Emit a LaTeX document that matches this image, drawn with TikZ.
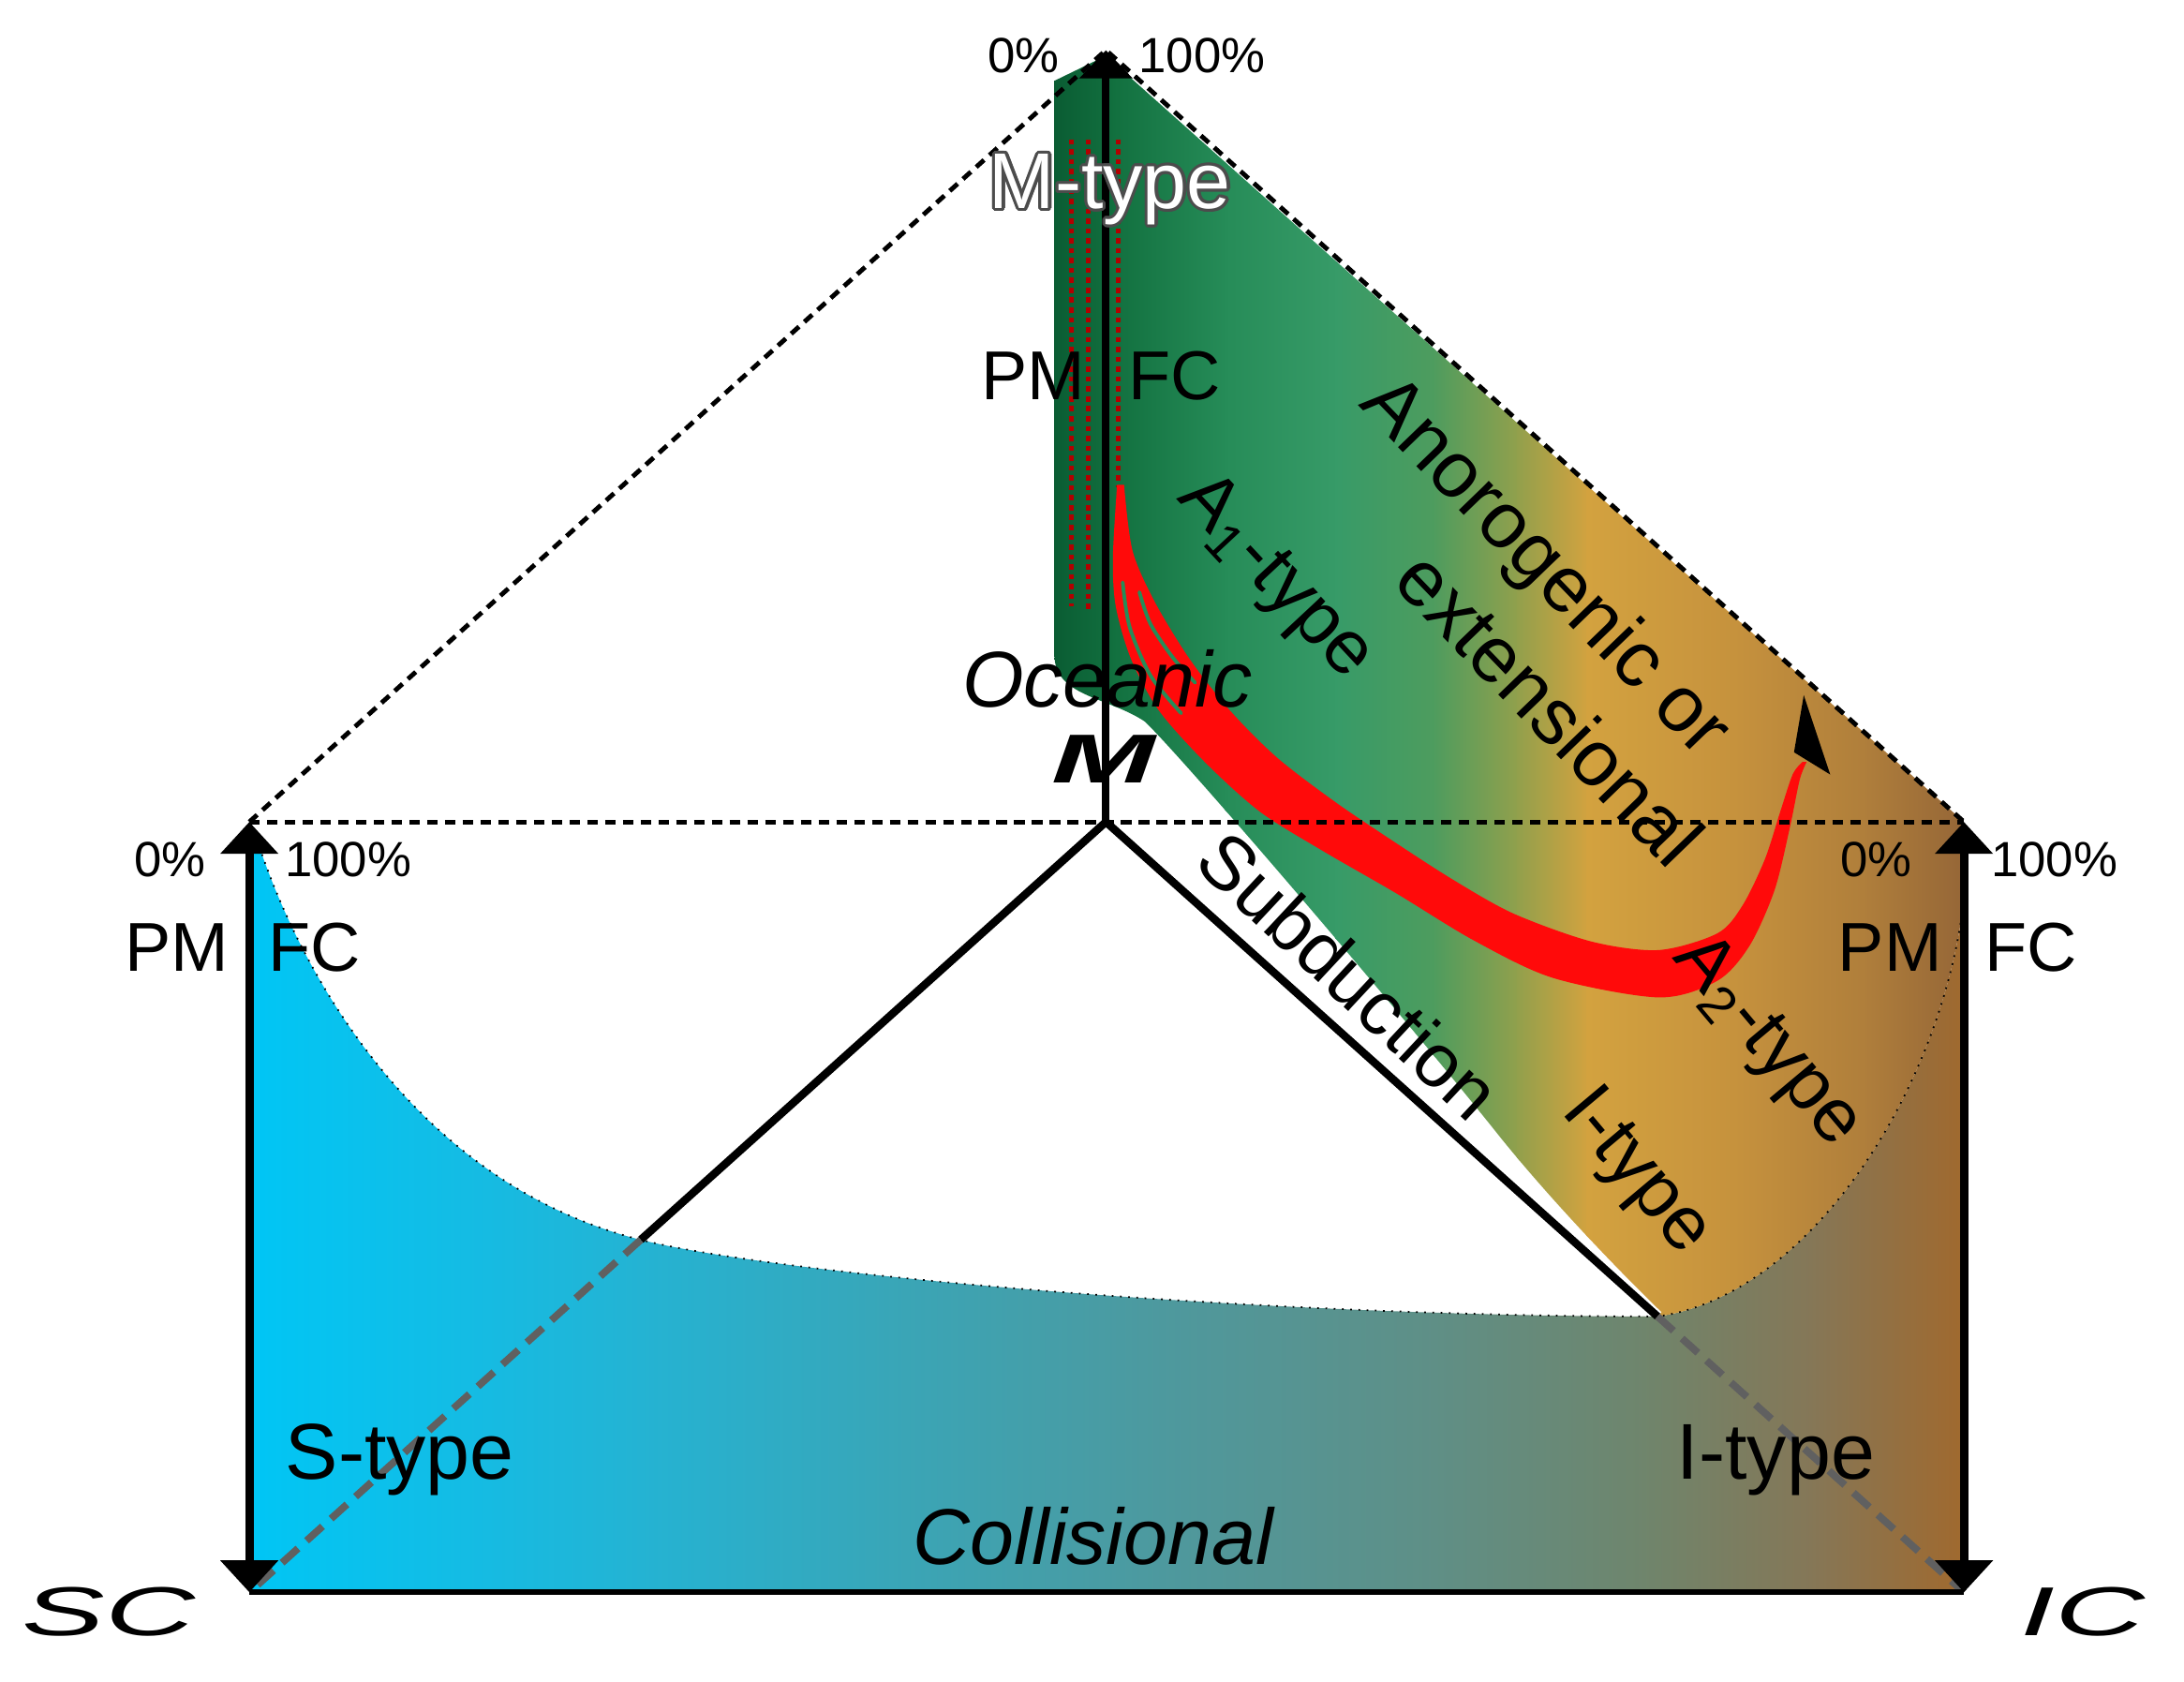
\documentclass[tikz,border=0pt]{standalone}
\usepackage{fontspec}
\setmainfont{Liberation Sans}
\usepackage{graphicx}
\usepackage{contour}
\contourlength{0.9pt}
\usetikzlibrary{arrows.meta}
\definecolor{b0}{HTML}{00C6F5}
\definecolor{b1}{HTML}{12BDE6}
\definecolor{b2}{HTML}{24B3D3}
\definecolor{b3}{HTML}{3AA5B6}
\definecolor{b4}{HTML}{4F989C}
\definecolor{b5}{HTML}{5F8F86}
\definecolor{b6}{HTML}{6F856C}
\definecolor{b7}{HTML}{857757}
\definecolor{b8}{HTML}{A0692E}
\definecolor{g0}{HTML}{0A5C33}
\definecolor{g1}{HTML}{12703F}
\definecolor{g2}{HTML}{268C58}
\definecolor{g3}{HTML}{379B68}
\definecolor{g4}{HTML}{4E9C5E}
\definecolor{g5}{HTML}{92A04C}
\definecolor{g6}{HTML}{D3A23F}
\definecolor{g7}{HTML}{C5913D}
\definecolor{g8}{HTML}{AF7E3B}
\definecolor{g9}{HTML}{956637}
\definecolor{bandred}{HTML}{FF0A0A}
\tikzset{
  axtip/.tip={Triangle[width=0.6cm,length=0.34cm]},
  toptip/.tip={Triangle[width=0.55cm,length=0.3cm]},
  lbl/.style={inner sep=0pt,font=\fontsize{23}{27}\selectfont},
  big/.style={inner sep=0pt,font=\fontsize{24}{28}\selectfont},
  ital/.style={inner sep=0pt,font=\fontsize{24}{28}\selectfont\itshape},
  pct/.style={inner sep=0pt,font=\fontsize{15}{18}\selectfont},
  ax/.style={inner sep=0pt,font=\fontsize{21}{25}\selectfont},
  corner/.style={inner sep=0pt,font=\fontsize{21}{25}\selectfont\itshape},
  dashline/.style={line width=1.4pt,dash pattern=on 3.2pt off 2.2pt},
  grayline/.style={line width=2.2pt,color=gray!75!black,dash pattern=on 6.5pt off 3.5pt},
  yline/.style={line width=2.4pt,line join=round},
  rim/.style={line width=0.5pt,dotted},
  reddot/.style={line width=1.4pt,color=red!70!black,dash pattern=on 1.6pt off 1.4pt},
  gap/.style={line width=1.1pt,color=g2,line cap=round}
}
\begin{document}
\begin{tikzpicture}[x=0.014866cm,y=-0.014866cm]
\useasboundingbox (0,0) rectangle (1568,1207);
\coordinate (A) at (794,36);
\coordinate (C) at (794,590);
\coordinate (LT) at (179,590);
\coordinate (RT) at (1410,590);
\coordinate (SC) at (179,1143);
\coordinate (IC) at (1410,1143);
\coordinate (P1) at (460,890);
\coordinate (P2) at (1190,945);

\begin{scope}
  \clip (179,590) -- (SC) -- (IC) -- (1410,645)
    .. controls (1395,780) and (1300,930) .. (P2)
    .. controls (900,945) and (560,915) .. (P1)
    .. controls (300,850) and (215,700) .. (183,598) -- cycle;
  \foreach \xa/\xb/\ca/\cb in {179/320/b0/b1,320/460/b1/b2,460/650/b2/b3,650/850/b3/b4,
      850/1030/b4/b5,1030/1180/b5/b6,1180/1300/b6/b7,1300/1410/b7/b8}
    \shade[left color=\ca,right color=\cb] (\xa-1,0) rectangle (\xb+1,1207);
\end{scope}

\begin{scope}
  \clip (757,58) -- (794,40) -- (RT) -- (1410,645)
    .. controls (1395,780) and (1300,930) .. (P2) -- (1193,942)
    .. controls (1160,910) and (1110,858) .. (1072,810)
    .. controls (1000,720) and (850,545) .. (822,518)
    .. controls (795,500) and (757,500) .. (757,470) -- cycle;
  \foreach \xa/\xb/\ca/\cb in {757/800/g0/g1,800/880/g1/g2,880/960/g2/g3,960/1030/g3/g4,
      1030/1090/g4/g5,1090/1140/g5/g6,1140/1250/g6/g7,1250/1340/g7/g8,1340/1410/g8/g9}
    \shade[left color=\ca,right color=\cb] (\xa-1,0) rectangle (\xb+1,1207);
\end{scope}

\draw[rim] (1410,645) .. controls (1395,780) and (1300,930) .. (P2)
  .. controls (900,945) and (560,915) .. (P1)
  .. controls (300,850) and (215,700) .. (183,598);

\draw[reddot] (769,100) -- (769,435);
\draw[reddot] (781,100) -- (781,440);
\draw[reddot] (803,100) -- (803,350);
\fill[bandred] plot[smooth] coordinates {(802,348) (799,400) (801,435) (812,473) (832,510)
    (866,548) (905,583) (950,611) (1002,641) (1058,675) (1115,702) (1191,716) (1233,704)
    (1256,679) (1274,639) (1285,594) (1292,560) (1297,547)}
  -- plot[smooth] coordinates {(1294,547) (1287,556) (1278,583) (1267,617) (1251,650)
    (1233,670) (1191,682) (1143,676) (1087,656) (1044,632) (1002,605) (959,576) (917,544)
    (883,510) (854,473) (829,432) (813,395) (807,348)} -- cycle;
\draw[gap] plot[smooth] coordinates {(806,418) (811,450) (826,485) (848,512)};
\draw[gap] plot[smooth] coordinates {(818,425) (826,448) (842,472) (858,490)};
\fill (1295,499) -- (1288,540) -- (1314,556) -- cycle;

\draw[dashline] (LT) -- (A) -- (RT);
\draw[dashline] (LT) -- (RT);

\draw[yline] (P1) -- (C) -- (P2);
\draw[line width=2.3pt,-toptip] (C) -- (A);
\draw[grayline] (P1) -- (SC);
\draw[grayline] (P2) -- (IC);
\draw[line width=1.8pt] (SC) -- (IC);
\draw[line width=2.6pt,axtip-axtip] (SC) -- (LT);
\draw[line width=2.6pt,axtip-axtip] (IC) -- (RT);

\node[pct] (t0) at (735,40) {0\%};
\node[pct] (t100) at (863,40) {100\%};
\node[big] (mtype) at (797,137) {\textcolor{white}{\contour{gray!60!black}{M-type}}};
\node[ax] (tpm) at (742,270) {PM};
\node[ax] (tfc) at (843,270) {FC};
\node[lbl,rotate=-47] (aone) at (915,415) {A\textsubscript{1}-type};
\node[big,rotate=-46] (anor) at (1108,408) {Anorogenic or};
\node[big,rotate=-46] (ext) at (1113,508) {extensional};
\node[ital] (ocean) at (795,487) {Oceanic};
\node[inner sep=0pt,font=\fontsize{21}{25}\selectfont\bfseries\itshape] (mant) at (792,545)
  {\scalebox{1.8}[1]{M}};
\node[lbl,rotate=-43] (subd) at (969,700) {Subduction};
\node[lbl,rotate=-50] (iup) at (1174,842) {I-type};
\node[lbl,rotate=-50] (atwo) at (1268,748) {A\textsubscript{2}-type};
\node[pct] (l0) at (122,617) {0\%};
\node[pct] (l100) at (250,617) {100\%};
\node[ax] (lpm) at (127,680) {PM};
\node[ax] (lfc) at (226,680) {FC};
\node[pct] (r0) at (1347,617) {0\%};
\node[pct] (r100) at (1475,617) {100\%};
\node[ax] (rpm) at (1357,680) {PM};
\node[ax] (rfc) at (1458,680) {FC};
\node[big] (stype) at (287,1048) {S-type};
\node[big] (itype) at (1275,1048) {I-type};
\node[ital] (coll) at (785,1103) {Collisional};
\node[corner] (sc) at (78,1157) {\scalebox{1.8}[1]{SC}};
\node[corner] (ic) at (1495,1157) {\scalebox{1.8}[1]{IC}};
\end{tikzpicture}
\end{document}
